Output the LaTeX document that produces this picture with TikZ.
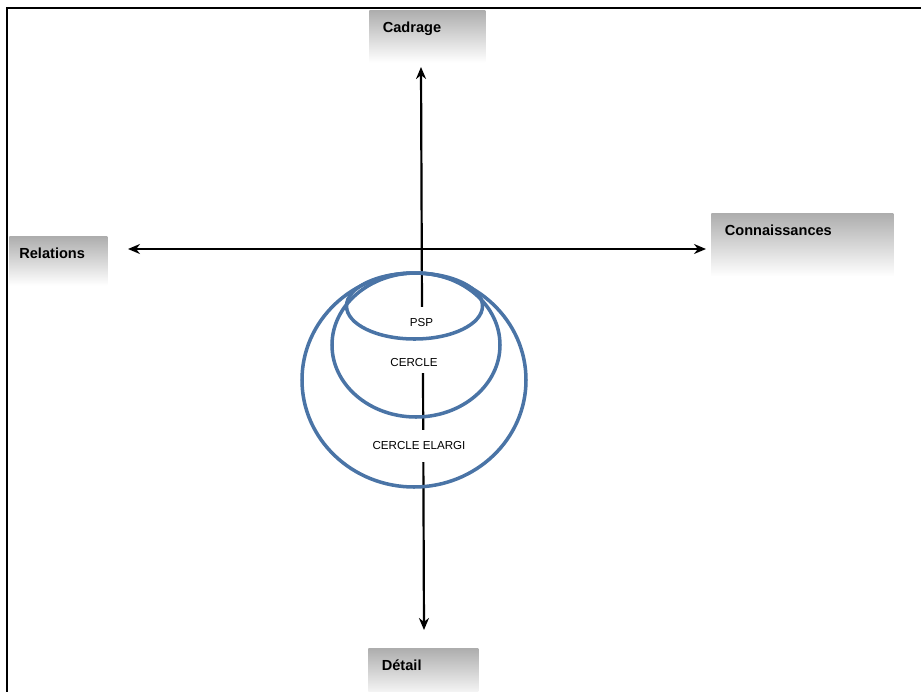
\documentclass[tikz,border=0pt]{standalone}
\usepackage{fontspec}
\setmainfont{Liberation Sans}
\usetikzlibrary{arrows.meta}

\definecolor{ringblue}{RGB}{74,116,166}

\tikzset{
  tag/.style={anchor=north west, align=left, inner xsep=0.27cm, inner ysep=0.24cm,
    text height=0.21cm, top color=black!32, bottom color=white,
    font=\fontsize{8.3}{10}\selectfont\bfseries},
  lbl/.style={fill=white, inner xsep=1pt, inner ysep=0pt,
    font=\fontsize{6.6}{8}\selectfont},
  ring/.style={draw=ringblue, line width=2pt},
  axis/.style={line width=1.25pt}
}

\begin{document}
\begin{tikzpicture}[x=0.02cm, y=-0.02cm, >={Stealth[length=0.24cm, width=0.2cm]}]
  \useasboundingbox (0,0) rectangle (921,691);

  % Frame
  \draw[line width=1.3pt] (7,8) rectangle (940,710);

  % Label boxes
  \node[tag, text width=1.78cm, text depth=0.35cm] (cadrage) at (369,10) {Cadrage};
  \node[tag, text width=3.10cm, text depth=0.57cm] (connaissances) at (711,213) {Connaissances};
  \node[tag, inner xsep=0.2cm, text width=1.56cm, text depth=0.29cm] (relations) at (9,236) {Relations};
  \node[tag, text width=1.66cm, text depth=0.31cm] (detail) at (368,648) {Détail};

  % Axes
  \coordinate (west) at (128,249);
  \coordinate (east) at (706,249);
  \coordinate (up) at (421,67);
  \coordinate (upstart) at (422,307);
  \coordinate (down) at (424,630);
  \coordinate (downstart) at (423,373);
  \draw[axis, <->] (west) -- (east);
  \draw[axis, ->] (upstart) -- (up);
  \draw[axis, ->] (downstart) -- (down);

  % Circle labels
  \node[lbl, minimum height=0.64cm] (psp) at (421.5,323) {PSP};
  \node[lbl, minimum height=0.40cm] (cercle) at (414,363) {CERCLE};
  \node[lbl, minimum height=0.64cm] (elargi) at (419,446) {CERCLE ELARGI};

  % Circles
  \draw[ring] (414,380) ellipse [x radius=112, y radius=107];
  \draw[ring] (416,345) ellipse [x radius=84, y radius=72];
  \draw[ring] (414.5,306) ellipse [x radius=68, y radius=33];
\end{tikzpicture}
\end{document}
